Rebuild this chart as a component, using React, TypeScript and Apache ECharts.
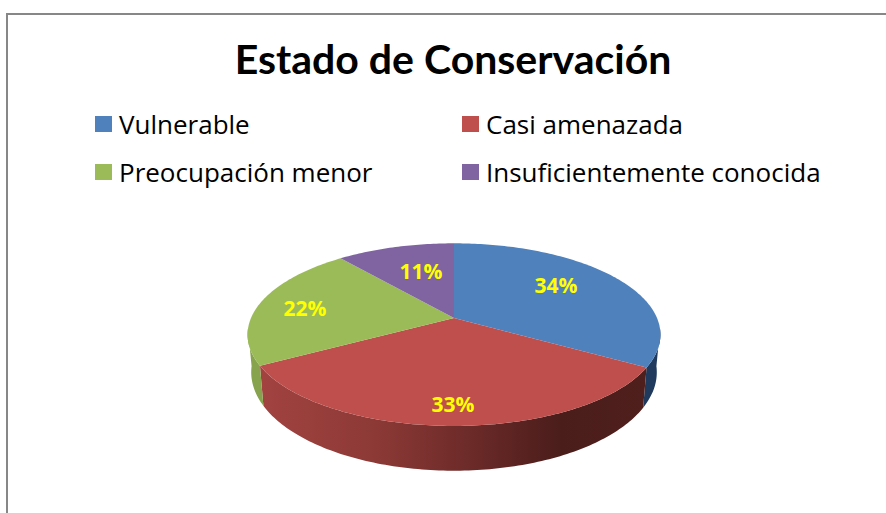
import React, { useEffect, useRef } from "react";
import * as echarts from "echarts";

const titleText = "Estado de Conservación";
const categories = ["Vulnerable", "Casi amenazada", "Preocupación menor", "Insuficientemente conocida"];
const values = [33.5, 33.3, 22.2, 11];
const topColors = ["#4F81BD", "#BE4F4C", "#9BBB59", "#8064A2"];
const wallColors = ["#1F3A5C", "#A34340", "#87A34E", "#6A5388"];

const legendSpots = [
  { left: 95, top: 111 },
  { left: 462, top: 111 },
  { left: 95, top: 159 },
  { left: 462, top: 159 },
];
const labelOffsets = [
  [102, -33],
  [-1, 86],
  [-149, -10],
  [-33, -47],
];

const total = values.reduce((a, b) => a + b, 0);
const CX = 454;
const TOP = { cy: 318, r: 203, k: 88.3 };
const BOTTOM = { cy: 354.3, r: 199.4, k: 95.2 };
const P = 0.182;
const project = (deg: number, d: { cy: number; r: number; k: number }) => {
  const t = (deg * Math.PI) / 180;
  const u = Math.sin(t);
  const v = -Math.cos(t);
  const s = 1 / (1 - P * v);
  return [CX + u * d.r * s, d.cy + v * d.k * s];
};
const arc = (a: number, b: number, d: { cy: number; r: number; k: number }) => {
  const n = Math.max(2, Math.ceil(Math.abs(b - a)));
  const pts: number[][] = [];
  for (let i = 0; i <= n; i++) pts.push(project(a + ((b - a) * i) / n, d));
  return pts;
};

const makeRender = (idx: number) => (_params: any, api: any) => {
  const start = (values.slice(0, idx).reduce((a, b) => a + b, 0) / total) * 360;
  const end = start + (api.value(0) / total) * 360;
  const wa = Math.max(start, 97);
  const wb = Math.min(end, 263);
  const children: any[] = [];
  if (wb > wa) {
    const fill =
      idx === 1
        ? new echarts.graphic.LinearGradient(0, 0, 1, 0, [
            { offset: 0, color: "#A24340" },
            { offset: 0.3, color: "#8C3936" },
            { offset: 0.55, color: "#6B2A28" },
            { offset: 0.78, color: "#4A1D1B" },
            { offset: 1, color: "#4F1F1C" },
          ])
        : wallColors[idx];
    children.push({
      type: "polygon",
      shape: { points: [...arc(wa, wb, TOP), ...arc(wb, wa, BOTTOM)] },
      style: { fill },
    });
  }
  children.push({
    type: "polygon",
    shape: { points: [[CX, TOP.cy], ...arc(start, end, TOP)] },
    style: { fill: topColors[idx] },
  });
  children.push({
    type: "text",
    z2: 10,
    x: CX + labelOffsets[idx][0],
    y: TOP.cy + labelOffsets[idx][1],
    style: {
      text: `${Math.round(api.value(0))}%`,
      fill: "#FFFF00",
      fontFamily: "Open Sans",
      fontWeight: "bold",
      fontSize: 21,
      align: "center",
      verticalAlign: "middle",
    },
  });
  return { type: "group", children };
};

export default function App() {
  const ref = useRef<HTMLDivElement>(null);
  useEffect(() => {
    const chart = echarts.init(ref.current!, undefined, { renderer: "svg" });
    chart.setOption({
      animation: false,
      backgroundColor: "#fff",
      title: {
        text: titleText,
        left: 448,
        top: 33,
        textAlign: "center",
        textStyle: { fontFamily: "Lato", fontWeight: "bold", fontSize: 41, color: "#000" },
      },
      legend: categories.map((name, i) => ({
        data: [name],
        left: legendSpots[i].left,
        top: legendSpots[i].top,
        padding: 0,
        icon: "rect",
        itemWidth: 17,
        itemHeight: 16,
        itemGap: 0,
        textStyle: { fontFamily: "Open Sans", fontSize: 26, color: "#000", padding: [0, 0, 0, 2] },
        selectedMode: false,
      })),
      graphic: [
        {
          type: "polyline",
          silent: true,
          shape: { points: [[7, 513], [7, 14], [886, 14]] },
          style: { stroke: "#878787", lineWidth: 2, fill: "none" },
        },
      ],
      series: categories.map((name, i) => ({
        type: "custom",
        name,
        coordinateSystem: "none",
        itemStyle: { color: topColors[i] },
        renderItem: makeRender(i),
        data: [values[i]],
      })),
    });
    return () => chart.dispose();
  }, []);
  return <div ref={ref} style={{ position: "absolute", left: 0, top: 0, width: 886, height: 513 }} />;
}
